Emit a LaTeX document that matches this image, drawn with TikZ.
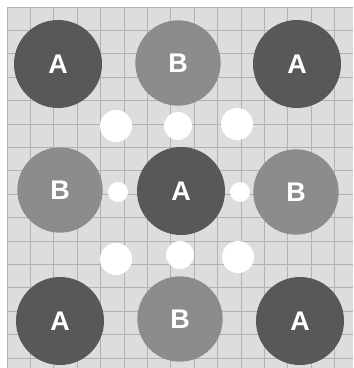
\documentclass[tikz,border=0pt]{standalone}
\usepackage{fontspec}
\setmainfont{Liberation Sans}
\usetikzlibrary{positioning}
\definecolor{acol}{RGB}{88, 88, 88}
\definecolor{bcol}{RGB}{140, 140, 140}
\definecolor{papercol}{RGB}{221, 221, 221}
\definecolor{gridcol}{RGB}{178, 178, 178}

\begin{document}
\begin{tikzpicture}[x=0.03cm, y=-0.03cm,
      atomA/.style={circle,fill=acol,minimum size=2.64cm,inner sep=0pt,text=white,font=\fontsize{23}{23}\selectfont\bfseries},
      atomB/.style={circle,fill=bcol,minimum size=2.56cm,inner sep=0pt,text=white,font=\fontsize{23}{23}\selectfont\bfseries},
      bighole/.style={circle,fill=white,minimum size=0.96cm,inner sep=0pt},
      midhole/.style={circle,fill=white,minimum size=0.84cm,inner sep=0pt},
      smallhole/.style={circle,fill=white,minimum size=0.6cm,inner sep=0pt}]
    \useasboundingbox (0, 0) rectangle (353, 368);
    \fill[white] (0, 0) rectangle (353, 368);
    \fill[papercol] (7, 7) rectangle (353, 368);
    \foreach \i in {0,...,14} {
      \draw[gridcol, line width=0.6pt] (7+23.4*\i, 7) -- (7+23.4*\i, 368);
    }
    \foreach \j in {0,...,15} {
      \draw[gridcol, line width=0.6pt] (7, 7+23.4*\j) -- (353, 7+23.4*\j);
    }
    \node[atomA] (a1) at (58, 64)   {A};
    \node[atomB] (b1) at (178, 63)  {B};
    \node[atomA] (a2) at (297, 64)  {A};
    \node[atomB] (b2) at (60, 190)  {B};
    \node[atomA] (a3) at (181, 191) {A};
    \node[atomB] (b3) at (296, 192) {B};
    \node[atomA] (a4) at (60, 321)  {A};
    \node[atomB] (b4) at (180, 319) {B};
    \node[atomA] (a5) at (300, 321) {A};
    \node[bighole]   (h1) at (116, 126) {};
    \node[midhole]   (h2) at (178, 126) {};
    \node[bighole]   (h3) at (237, 124) {};
    \node[smallhole] (h4) at (118, 192) {};
    \node[smallhole] (h5) at (240, 192) {};
    \node[bighole]   (h6) at (116, 259) {};
    \node[midhole]   (h7) at (180, 255) {};
    \node[bighole]   (h8) at (238, 257) {};
  \end{tikzpicture}
\end{document}
